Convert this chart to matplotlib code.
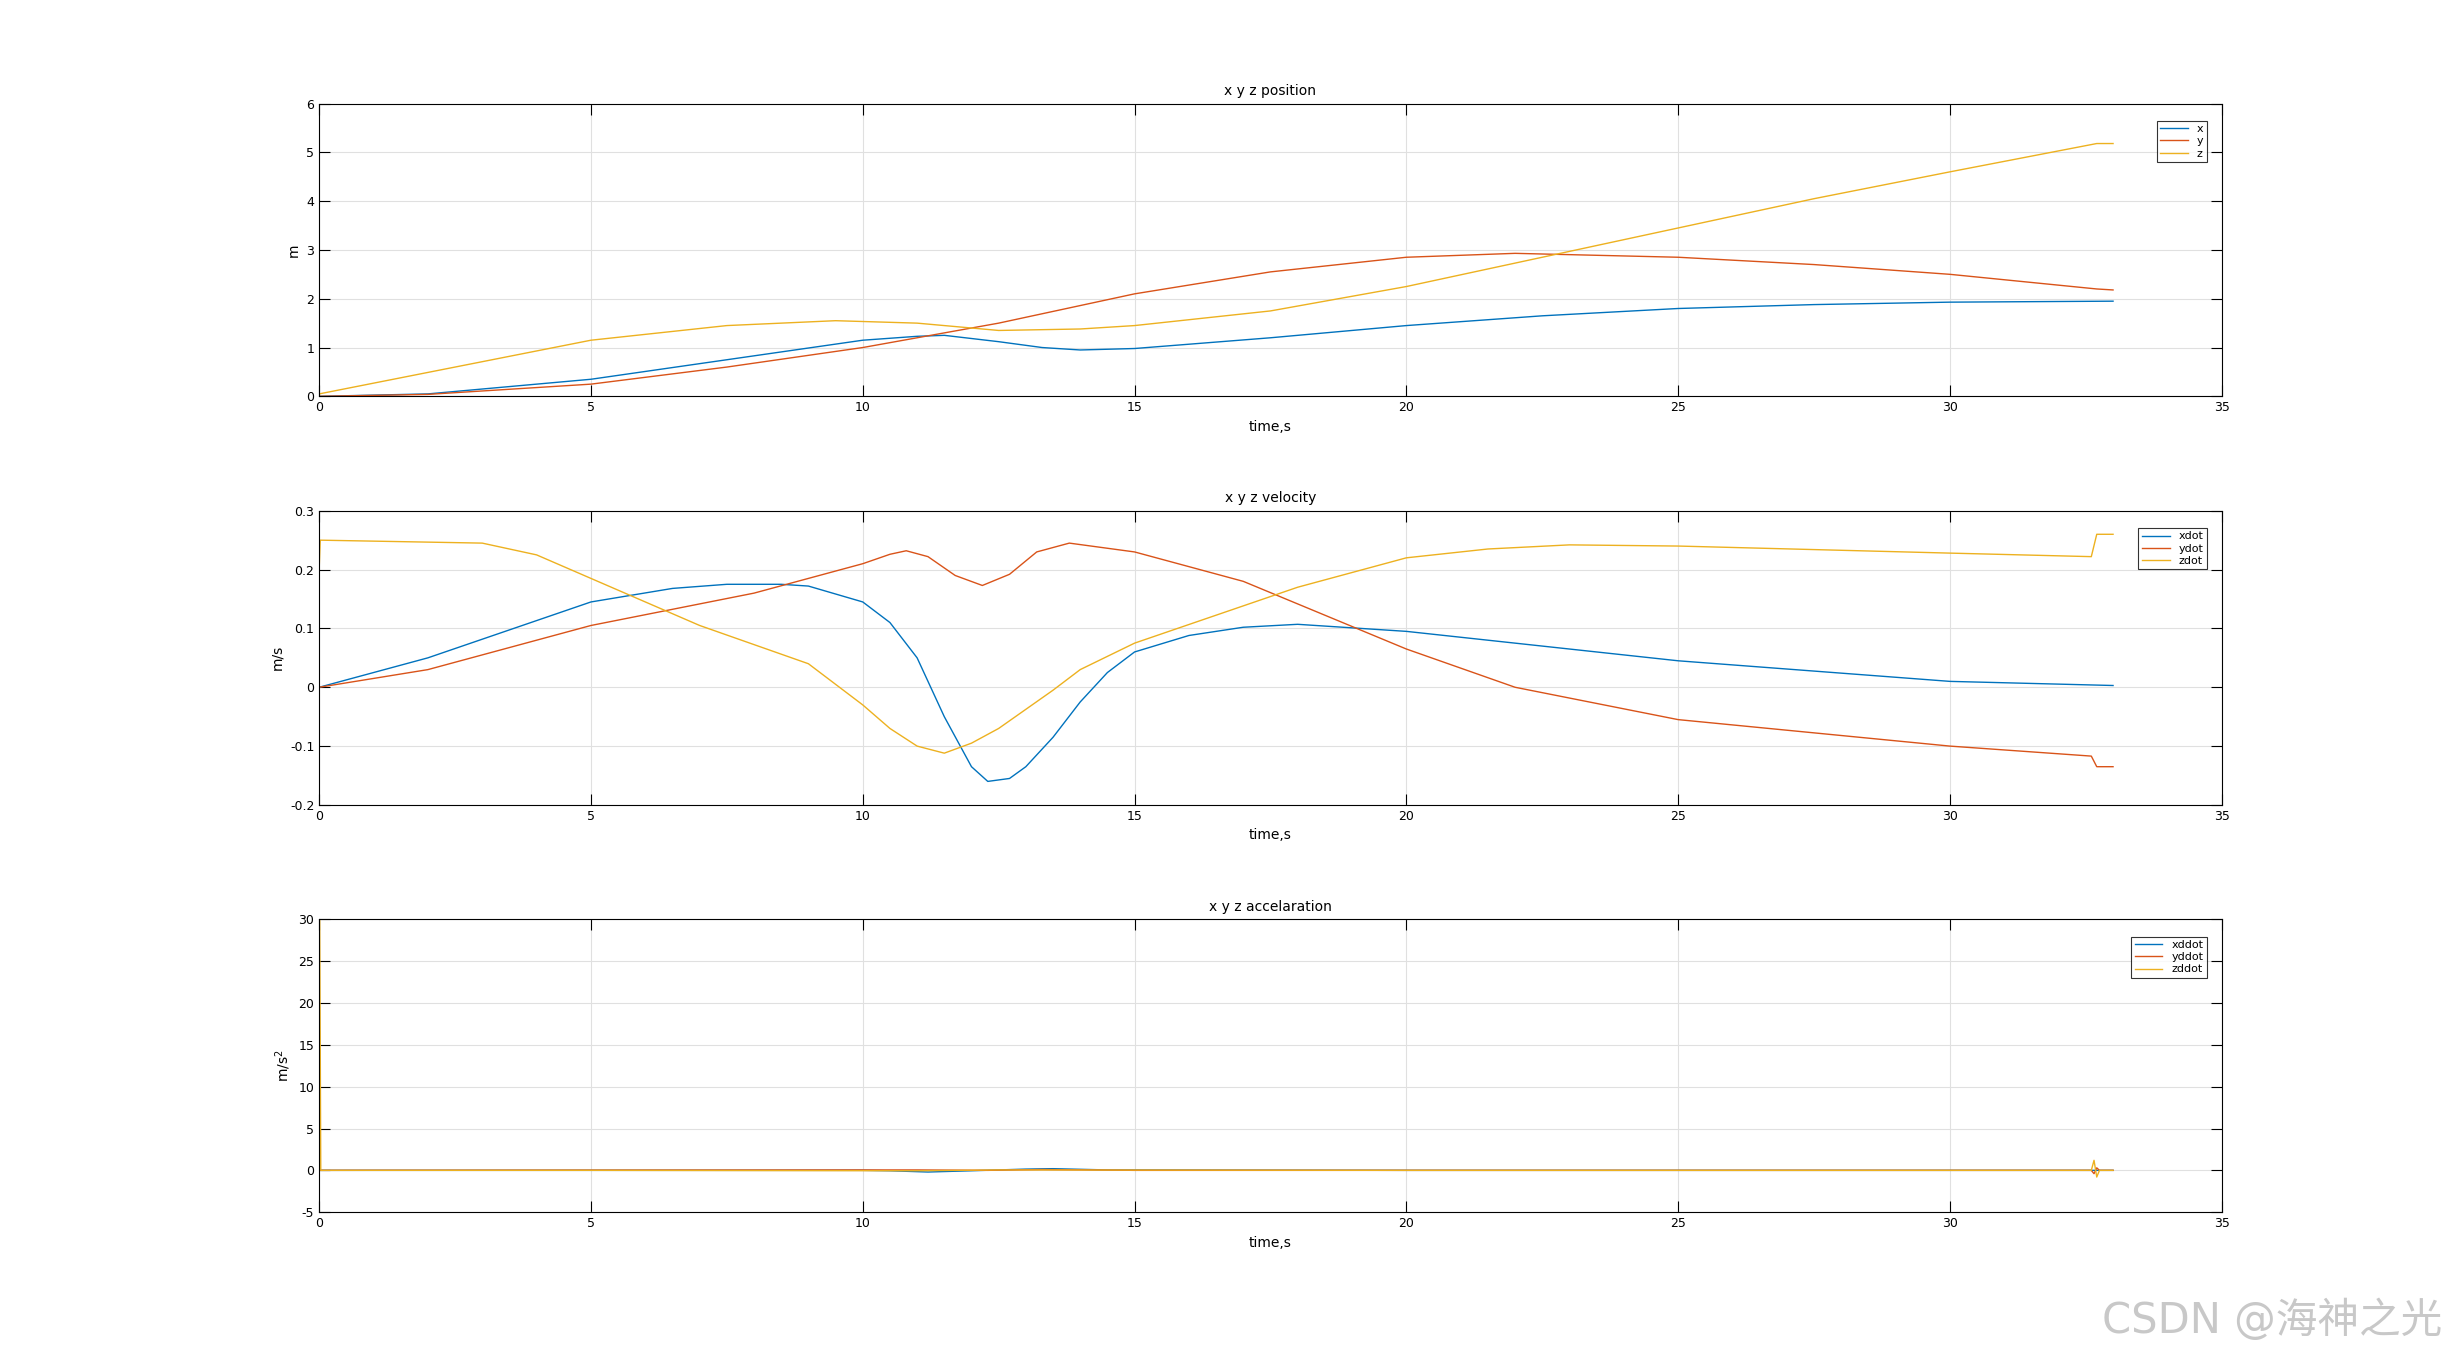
import matplotlib.pyplot as plt
from matplotlib.ticker import FuncFormatter

plt.rcParams['font.family'] = ['DejaVu Sans', 'Noto Sans CJK SC']
plt.rcParams['axes.unicode_minus'] = False

# position
t_pos = [0, 2, 5, 7.5, 10, 11, 11.5, 12.5, 13.3, 14, 15, 17.5, 20, 22.5, 25, 27.5, 30, 33]
x_pos = [0, 0.05, 0.35, 0.75, 1.15, 1.23, 1.25, 1.12, 1.0, 0.95, 0.98, 1.2, 1.45, 1.65, 1.8, 1.88, 1.93, 1.95]
t_py = [0, 2, 5, 7.5, 10, 12.5, 15, 17.5, 20, 22, 25, 27.5, 30, 32.7, 33]
y_pos = [0, 0.04, 0.25, 0.6, 1.0, 1.5, 2.1, 2.55, 2.85, 2.93, 2.85, 2.7, 2.5, 2.2, 2.18]
t_pz = [0, 2.5, 5, 7.5, 9.5, 11, 12.5, 14, 15, 17.5, 20, 22.5, 25, 27.5, 30, 32.7, 33]
z_pos = [0.05, 0.6, 1.15, 1.45, 1.55, 1.5, 1.35, 1.38, 1.45, 1.75, 2.25, 2.85, 3.45, 4.05, 4.6, 5.18, 5.18]

# velocity
t_vx = [0, 2, 5, 6.5, 7.5, 8.5, 9, 10, 10.5, 11, 11.5, 12, 12.3, 12.7, 13, 13.5, 14, 14.5, 15, 16, 17, 18, 20, 25, 30, 33]
xdot = [0, 0.05, 0.145, 0.168, 0.175, 0.175, 0.172, 0.145, 0.11, 0.05, -0.05, -0.135, -0.16, -0.155, -0.135, -0.085, -0.025, 0.025, 0.06, 0.088, 0.102, 0.107, 0.095, 0.045, 0.01, 0.003]
t_vy = [0, 2, 5, 8, 10, 10.5, 10.8, 11.2, 11.7, 12.2, 12.7, 13.2, 13.8, 15, 17, 20, 22, 25, 30, 32.6, 32.7, 33]
ydot = [0, 0.03, 0.105, 0.16, 0.21, 0.226, 0.232, 0.222, 0.19, 0.173, 0.192, 0.23, 0.245, 0.23, 0.18, 0.065, 0, -0.055, -0.1, -0.117, -0.135, -0.135]
t_vz = [0, 0.02, 3, 4, 5, 7, 9, 10, 10.5, 11, 11.5, 12, 12.5, 13.5, 14, 15, 18, 20, 21.5, 23, 25, 30, 32.6, 32.7, 33]
zdot = [0.2, 0.25, 0.245, 0.225, 0.185, 0.105, 0.04, -0.03, -0.07, -0.1, -0.112, -0.095, -0.07, -0.005, 0.03, 0.075, 0.17, 0.22, 0.235, 0.242, 0.24, 0.228, 0.222, 0.26, 0.26]

# acceleration
t_ax = [0, 10, 10.5, 11.2, 12, 13, 13.5, 14.5, 20, 33]
xddot = [0, 0, -0.05, -0.2, -0.05, 0.15, 0.2, 0.05, 0, 0]
t_ay = [0, 10, 11, 12.3, 13.3, 15, 20, 32.6, 32.65, 32.7, 32.75, 33]
yddot = [0, 0.05, 0.05, 0, 0.1, 0, 0, 0, -0.4, 0.3, 0, 0]
t_az = [0, 0.01, 0.03, 5, 11, 12.5, 20, 32.6, 32.65, 32.7, 32.75, 33]
zddot = [0, 30, 0, 0, -0.05, 0.05, 0, 0, 1.2, -0.8, 0, 0]

blue, red, yel = '#0072BD', '#D95319', '#EDB120'

fig = plt.figure(figsize=(24.55, 13.62), dpi=100)
boxes = [[0.130, 0.709, 0.775, 0.215], [0.130, 0.409, 0.775, 0.216], [0.130, 0.110, 0.775, 0.215]]
axs = [fig.add_axes(b) for b in boxes]

axs[0].plot(t_pos, x_pos, color=blue, lw=1, label='x')
axs[0].plot(t_py, y_pos, color=red, lw=1, label='y')
axs[0].plot(t_pz, z_pos, color=yel, lw=1, label='z')
axs[0].set_ylim(0, 6)
axs[0].set_title('x y z position', fontsize=10)
axs[0].set_ylabel('m', fontsize=10)

axs[1].plot(t_vx, xdot, color=blue, lw=1, label='xdot')
axs[1].plot(t_vy, ydot, color=red, lw=1, label='ydot')
axs[1].plot(t_vz, zdot, color=yel, lw=1, label='zdot')
axs[1].set_ylim(-0.2, 0.3)
axs[1].set_title('x y z velocity', fontsize=10)
axs[1].set_ylabel('m/s', fontsize=10)

axs[2].plot(t_ax, xddot, color=blue, lw=1, label='xddot')
axs[2].plot(t_ay, yddot, color=red, lw=1, label='yddot')
axs[2].plot(t_az, zddot, color=yel, lw=1, label='zddot')
axs[2].set_ylim(-5, 30)
axs[2].set_title('x y z accelaration', fontsize=10)
axs[2].set_ylabel('m/s$^2$', fontsize=10)

fmt = FuncFormatter(lambda v, p: ('%g' % round(v, 6)))
for ax in axs:
    ax.set_xlim(0, 35)
    ax.yaxis.set_major_formatter(fmt)
    ax.set_xlabel('time,s', fontsize=10)
    ax.grid(True, color='#e0e0e0', lw=0.8)
    ax.tick_params(direction='in', top=True, right=True, labelsize=9, length=8)
    leg = ax.legend(loc='upper right', fontsize=8, fancybox=False, edgecolor='black',
                    bbox_to_anchor=(0.995, 0.96), handlelength=2.5, borderpad=0.3, labelspacing=0.2)
    for txt in leg.get_texts():
        txt.set_ha('right')
    leg.get_frame().set_linewidth(0.8)
    for s in ax.spines.values():
        s.set_linewidth(0.8)

fig.text(0.995, 0.015, 'CSDN @海神之光', fontsize=30, color='#c8c8c8', ha='right', va='bottom',
         family=['DejaVu Sans', 'Noto Sans CJK SC'])

fig.savefig('out.png')
